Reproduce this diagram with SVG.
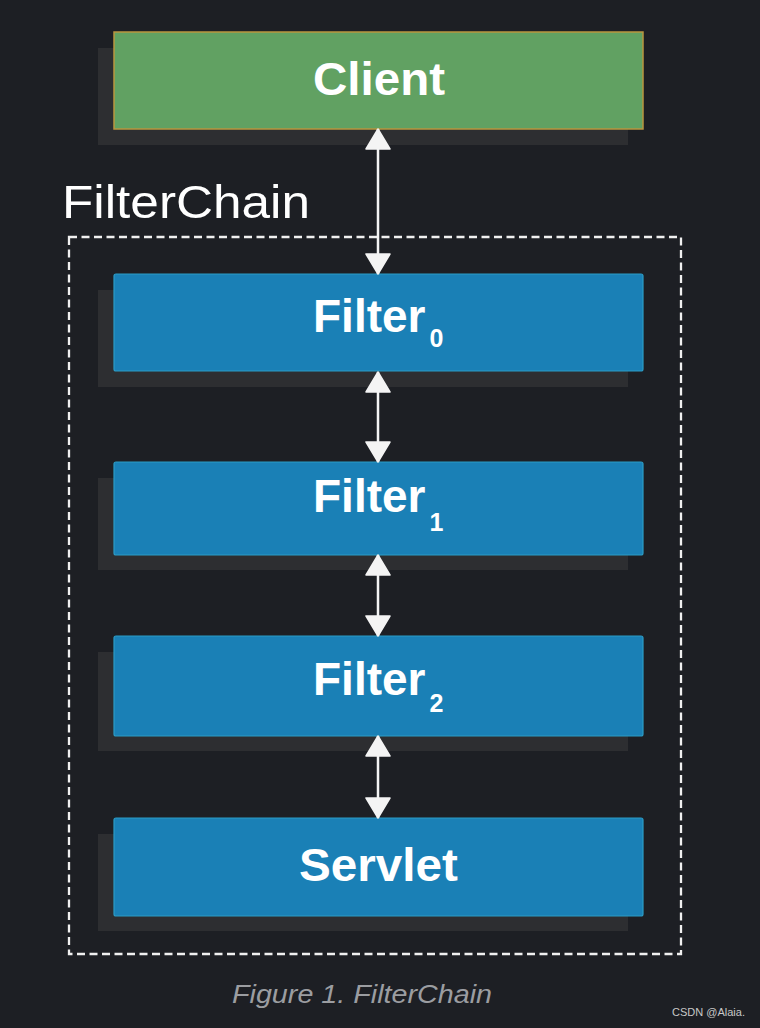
<svg xmlns="http://www.w3.org/2000/svg" width="760" height="1028" viewBox="0 0 760 1028">
<defs>
<style>
.shadow{fill:#2d2e31}
.blue{fill:#1a80b6;stroke:#2b9cc6;stroke-width:1.2}
.green{fill:#61a162;stroke:#b9963f;stroke-width:1.5}
.lbl{font-family:"Liberation Sans",Arial,sans-serif;font-weight:bold;font-size:46px;fill:#ffffff}
.sub{font-size:25px}
.conn{stroke:#f4f4f4;stroke-width:2.5;fill:none;marker-start:url(#ah);marker-end:url(#ah)}
</style>
<marker id="ah" viewBox="0 0 22 26" markerWidth="22" markerHeight="26" refX="21" refY="13" orient="auto-start-reverse" markerUnits="userSpaceOnUse">
<path d="M1,1 L21,13 L1,25 z" fill="#f4f4f4" stroke="#f4f4f4" stroke-width="1.5" stroke-linejoin="round"/>
</marker>
</defs>
<rect x="0" y="0" width="760" height="1028" fill="#1d1f24"/>

<g id="filterchain">
<rect x="69" y="237" width="612" height="717" fill="none" stroke="#f0f0f0" stroke-width="2.3" stroke-dasharray="8 4.5"/>
<text x="62" y="218" font-family="'Liberation Sans',Arial,sans-serif" font-size="46" fill="#ffffff" textLength="248" lengthAdjust="spacingAndGlyphs">FilterChain</text>
</g>

<g id="client">
<rect class="shadow" x="98" y="48" width="530" height="97"/>
<rect class="green" x="114" y="32" width="529" height="97"/>
<text class="lbl" x="313" y="95" textLength="132" lengthAdjust="spacingAndGlyphs">Client</text>
</g>

<g id="filter0">
<rect class="shadow" x="98" y="290" width="530" height="97"/>
<rect class="blue" x="114" y="274" width="529" height="97" rx="2"/>
<text class="lbl" x="313" y="332">Filter<tspan class="sub" dx="4" dy="15">0</tspan></text>
</g>

<g id="filter1">
<rect class="shadow" x="98" y="478" width="530" height="92"/>
<rect class="blue" x="114" y="462" width="529" height="93" rx="2"/>
<text class="lbl" x="313" y="512">Filter<tspan class="sub" dx="4" dy="19">1</tspan></text>
</g>

<g id="filter2">
<rect class="shadow" x="98" y="652" width="530" height="99"/>
<rect class="blue" x="114" y="636" width="529" height="100" rx="2"/>
<text class="lbl" x="313" y="695">Filter<tspan class="sub" dx="4" dy="17">2</tspan></text>
</g>

<g id="servlet">
<rect class="shadow" x="98" y="834" width="530" height="97"/>
<rect class="blue" x="114" y="818" width="529" height="98" rx="2"/>
<text class="lbl" x="299" y="881" textLength="159" lengthAdjust="spacingAndGlyphs">Servlet</text>
</g>

<g id="connectors">
<line class="conn" x1="378" y1="129" x2="378" y2="274"/>
<line class="conn" x1="378" y1="372" x2="378" y2="462"/>
<line class="conn" x1="378" y1="555" x2="378" y2="636"/>
<line class="conn" x1="378" y1="736" x2="378" y2="818"/>
</g>

<text x="232" y="1003" font-family="'Liberation Sans',Arial,sans-serif" font-style="italic" font-size="26" fill="#9b9da1" textLength="260" lengthAdjust="spacingAndGlyphs">Figure 1. FilterChain</text>
<text x="672" y="1016" font-family="'Liberation Sans',Arial,sans-serif" font-size="11" fill="#c8c8c8" textLength="73" lengthAdjust="spacingAndGlyphs">CSDN @Alaia.</text>
</svg>
